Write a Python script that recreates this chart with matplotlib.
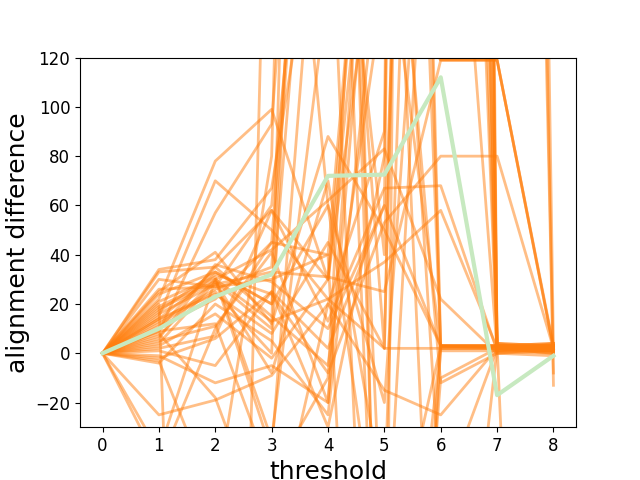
import matplotlib
matplotlib.use("Agg")
import matplotlib.pyplot as plt

# threshold steps on the x axis
THRESHOLDS = [0, 1, 2, 3, 4, 5, 6, 7, 8]

# alignment difference for each individual run (values beyond the view are clipped)
RUNS = [
    [0, 22, 78, 99, 30, 300, -200, 2, 2],
    [0, 15, 70, 50, 22, 37, 58, 2, 1],
    [0, 9, 57, 93, 400, -100, 3, 3, 2],
    [0, 34, 38, 67, 210, -300, 2, 2, 3],
    [0, 33, 35, 58, 13, 67, 68, 1, 2],
    [0, 25, 41, 12, 88, 50, 3, 3, 3],
    [0, 19, 30, 42, 62, 83, 22, 0, 1],
    [0, 16, 28, 33, 31, 25, 119, 119, 2],
    [0, 14, 32, 24, -8, 53, 80, 80, 2],
    [0, 12, 25, 0, 500, -200, 3, 2, 2],
    [0, 7, 30, 13, 22, 2, 2, 2, 1],
    [0, 5, 11, 41, -20, 300, 1000, 2, 0],
    [0, 2, 7, 58, 30, 200, 119, 119, 3],
    [0, -1, -12, -5, -20, 250, -12, 0, 2],
    [0, -4, 20, 5, -25, 180, 3, 3, 4],
    [0, -25, -19, -9, 20, -15, -25, 2, 1],
    [0, -45, 10, 45, 350, -200, 2000, 4, 1],
    [0, -40, 30, -40, 250, 40, 700, 3, -500],
    [0, 30, 27, 60, 300, 900, 3, 3, 2],
    [0, 20, -600, 300, 60, -100, 300, 1500, 2],
    [0, 10, 35, 15, -5, 150, 119, 119, 2],
    [0, 4, 29, -8, 70, -60, 600, 2, 3],
    [0, 24, 33, 20, 60, -20, 300, 1, 4],
    [0, 1, -5, 25, 2, 60, 3, 3, 3],
    [0, 18, 29, 10, 800, -300, -10, 2, 0],
    [0, 6, 36, 29, 10, 60, 1800, 1, 1],
    [0, -3, -60, 80, 900, 600, 2, 2, 2],
    [0, 13, 26, 35, 350, 800, 1, 1, 3],
    [0, 21, 31, -35, 150, 1000, 300, 1200, -13],
    [0, 8, -18, -80, 20, 90, 2000, 0, -1],
    [0, 11, 22, 45, 40, 300, -60, 2, 1],
    [0, 3, 16, -2, 30, 250, 1300, 1000, -8],
    [0, 26, 27, 30, 40, -400, 3, 3, 2],
    [0, -2, 6, 25, -30, 80, 1600, 4, 3],
    [0, 17, 33, 20, 300, 2, 1000, 3, 4],
    [0, 9, 12, -50, -10, 400, 2500, 1, 0],
    [0, 14, 24, 8, 45, 2, 900, 4, 3],
]

# mean curve, drawn on top
MEAN = [0, 10, 23, 32, 72, 72.5, 112, -17, -1]


def main() -> None:
    fig, ax = plt.subplots(figsize=(6.4, 4.8), dpi=100)
    for run in RUNS:
        ax.plot(THRESHOLDS, run, color="tab:orange", alpha=0.5, linewidth=2)
    ax.plot(THRESHOLDS, MEAN, color="#c7e9c0", linewidth=3)
    ax.set_ylim(-30, 120)
    ax.set_xlim(-0.4, 8.4)
    ax.set_xticks(THRESHOLDS)
    ax.tick_params(labelsize=12)
    ax.set_xlabel("threshold", fontsize=18)
    ax.set_ylabel("alignment difference", fontsize=18)
    fig.savefig("out.png", dpi=100)
    plt.close(fig)


if __name__ == "__main__":
    main()
